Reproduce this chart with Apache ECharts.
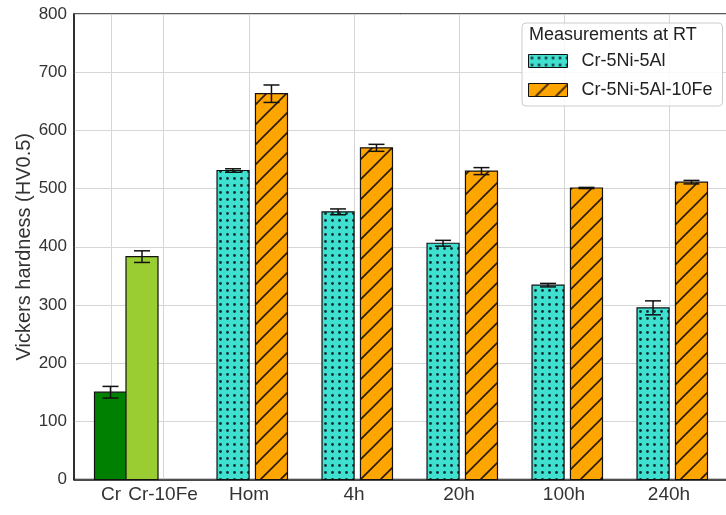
<!DOCTYPE html>
<html><head><meta charset="utf-8">
<script src="https://cdn.jsdelivr.net/npm/echarts@6/dist/echarts.min.js"></script>
<style>html,body{margin:0;padding:0;background:#fff}#c{width:726px;height:515px}</style>
</head><body><div id="c"></div>
<script>
// ---------- data ----------
const categories = ['Cr', 'Cr-10Fe', 'Hom', '4h', '20h', '100h', '240h'];
const refNames = ['Cr', 'Cr-10Fe'];
const refValues = [150, 383];
const refErrors = [10, 10];
const heatCats = ['Hom', '4h', '20h', '100h', '240h'];
const alValues = [531, 460, 406, 334, 295];
const alErrors = [3, 5, 5, 3, 12];
const feValues = [663, 570, 530, 501, 511];
const feErrors = [15, 6, 6, 1, 3];
const yTickValues = [0, 100, 200, 300, 400, 500, 600, 700, 800];
const seriesNames = ['Cr-5Ni-5Al', 'Cr-5Ni-5Al-10Fe'];
const legendTitle = 'Measurements at RT';
const yAxisName = 'Vickers hardness (HV0.5)';

// ---------- layout / style ----------
const FONT = '"Liberation Sans", Arial, sans-serif';
const TICK_POS = [0.686, 1.181, 2, 3, 4, 5, 6];
const REF_POS = [0.681, 0.981];
const BAR_W = 0.305;
const AL_OFF = -0.152, FE_OFF = 0.214;
const XMIN = 2 - 175 / 105, XMAX = XMIN + 660 / 105;
const refColors = ['#008000', '#9ACD32'];

function dotPattern() {
  const c = document.createElement('canvas'); c.width = 7; c.height = 7;
  const g = c.getContext('2d');
  g.fillStyle = '#40E0D0'; g.fillRect(0, 0, 7, 7);
  g.fillStyle = '#123030'; g.beginPath(); g.arc(3.5, 3.5, 1.4, 0, Math.PI * 2); g.fill();
  return c;
}
function hatchPattern() {
  const s = 20;
  const c = document.createElement('canvas'); c.width = s; c.height = s;
  const g = c.getContext('2d');
  g.fillStyle = '#FFA500'; g.fillRect(0, 0, s, s);
  g.strokeStyle = '#2a1c00'; g.lineWidth = 1.6;
  g.beginPath();
  g.moveTo(-2, s + 2); g.lineTo(s + 2, -2);
  g.moveTo(-s / 2 - 2, s / 2 + 2); g.lineTo(s / 2 + 2, -s / 2 - 2);
  g.moveTo(s / 2 - 2, 1.5 * s + 2); g.lineTo(1.5 * s + 2, s / 2 - 2);
  g.stroke();
  return c;
}
const dotFill = { image: dotPattern(), repeat: 'repeat' };
const hatchFill = { image: hatchPattern(), repeat: 'repeat' };

function barRender(fillFn) {
  return function (params, api) {
    const x = api.value(0), v = api.value(1), e = api.value(2);
    const p0 = api.coord([x - BAR_W / 2, v]);
    const p1 = api.coord([x + BAR_W / 2, 0]);
    const top = api.coord([x, v + e]);
    const bot = api.coord([x, v - e]);
    const cw = 8;
    return {
      type: 'group',
      children: [
        { type: 'rect', shape: { x: p0[0], y: p0[1], width: p1[0] - p0[0], height: p1[1] - p0[1] },
          style: { fill: fillFn(params.dataIndex), stroke: '#111', lineWidth: 1.2 } },
        { type: 'line', shape: { x1: top[0], y1: top[1], x2: bot[0], y2: bot[1] }, style: { stroke: '#111', lineWidth: 1.5 } },
        { type: 'line', shape: { x1: top[0] - cw, y1: top[1], x2: top[0] + cw, y2: top[1] }, style: { stroke: '#111', lineWidth: 1.5 } },
        { type: 'line', shape: { x1: bot[0] - cw, y1: bot[1], x2: bot[0] + cw, y2: bot[1] }, style: { stroke: '#111', lineWidth: 1.5 } }
      ]
    };
  };
}

const refData = refNames.map((n, i) => [REF_POS[i], refValues[i], refErrors[i]]);
const alData = heatCats.map((n, i) => [TICK_POS[categories.indexOf(n)] + AL_OFF, alValues[i], alErrors[i]]);
const feData = heatCats.map((n, i) => [TICK_POS[categories.indexOf(n)] + FE_OFF, feValues[i], feErrors[i]]);

const chart = echarts.init(document.getElementById('c'), null, { renderer: 'canvas' });
chart.setOption({
  animation: false,
  backgroundColor: '#fff',
  textStyle: { fontFamily: FONT },
  grid: { left: 74, top: 14, width: 660, bottom: 35.5, outerBoundsMode: 'none', containLabel: false,
    show: true, borderColor: '#222', borderWidth: 1.5, backgroundColor: 'transparent' },
  xAxis: {
    type: 'value', min: XMIN, max: XMAX,
    axisLine: { show: true, onZero: false, lineStyle: { color: '#222', width: 1.5 } },
    axisTick: { show: false, customValues: TICK_POS },
    axisLabel: {
      customValues: TICK_POS, fontSize: 19, color: '#333', fontFamily: FONT, margin: 6,
      formatter: function (v) { const i = TICK_POS.findIndex(t => Math.abs(t - v) < 1e-6); return i >= 0 ? categories[i] : ''; }
    },
    splitLine: { show: true, lineStyle: { color: '#d6d6d6', width: 1 } }
  },
  yAxis: {
    type: 'value', min: yTickValues[0], max: yTickValues[yTickValues.length - 1], interval: 100,
    name: yAxisName, nameLocation: 'middle', nameGap: 40, nameMoveOverlap: false,
    nameTextStyle: { fontSize: 20, color: '#333', fontFamily: FONT },
    axisLine: { show: true, lineStyle: { color: '#222', width: 1.5 } },
    axisTick: { show: false },
    axisLabel: { fontSize: 17, color: '#333', fontFamily: FONT, margin: 7 },
    splitLine: { show: true, lineStyle: { color: '#d6d6d6', width: 1 } }
  },
  legend: {
    data: seriesNames, orient: 'vertical', left: 522, top: 23, icon: 'rect',
    itemWidth: 39, itemHeight: 13, itemGap: 11, padding: [29, 10, 7, 6],
    backgroundColor: 'rgba(255,255,255,0.85)', borderColor: '#cccccc', borderWidth: 1, borderRadius: 4,
    selectedMode: false,
    itemStyle: { borderColor: '#111', borderWidth: 1 },
    textStyle: { fontSize: 18, color: '#222', fontFamily: FONT, padding: [0, 0, 0, 9] }
  },
  graphic: [{
    type: 'text', left: 529, top: 26, z: 100,
    style: { text: legendTitle, fontSize: 18, fill: '#222', fontFamily: FONT }
  }],
  series: [
    { type: 'custom', name: 'reference', data: refData, encode: { x: 0, y: 1 },
      renderItem: barRender(i => refColors[i]), z: 3 },
    { type: 'custom', name: seriesNames[0], data: alData, encode: { x: 0, y: 1 },
      itemStyle: { color: dotFill, borderColor: '#111', borderWidth: 1 },
      renderItem: barRender(() => dotFill), z: 3 },
    { type: 'custom', name: seriesNames[1], data: feData, encode: { x: 0, y: 1 },
      itemStyle: { color: hatchFill, borderColor: '#111', borderWidth: 1 },
      renderItem: barRender(() => hatchFill), z: 3 }
  ]
});
</script></body></html>
